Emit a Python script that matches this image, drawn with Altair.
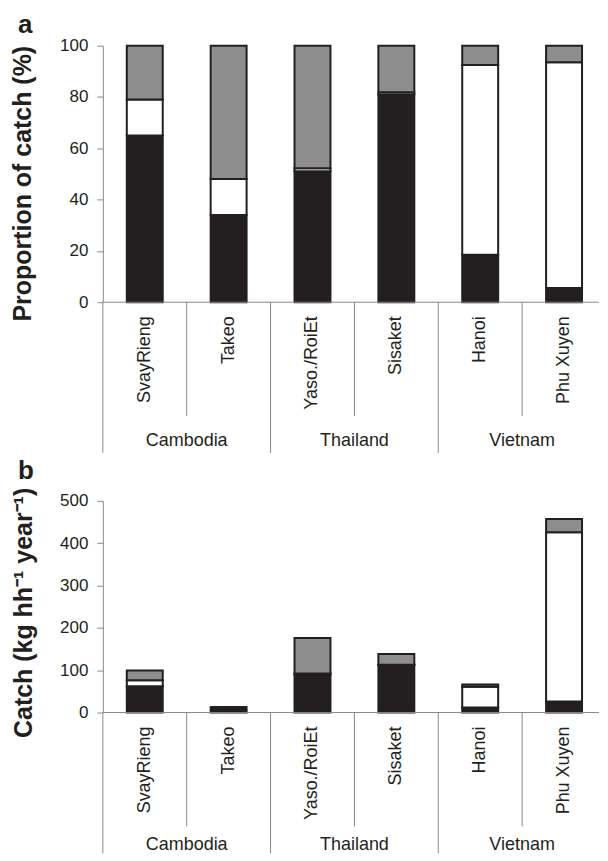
import altair as alt
import pandas as pd

# ---------------- data ----------------
regions = ["SvayRieng", "Takeo", "Yaso./RoiEt", "Sisaket", "Hanoi", "Phu Xuyen"]
countries = ["Cambodia", "Thailand", "Vietnam"]
country_anchor = ["Takeo", "Sisaket", "Phu Xuyen"]   # left edge of 2nd region = country centre
short_sep = ["Takeo", "Sisaket", "Phu Xuyen"]
long_sep = ["SvayRieng", "Yaso./RoiEt", "Hanoi"]
parts = ["Component 1", "Component 2", "Component 3"]   # black, white, hatched

# panel a: proportion of catch (%)
pct_black = [65, 34, 51, 81, 18.5, 5.5]
pct_white = [14, 14, 1.2, 0.8, 74, 88]
pct_hatched = [21, 52, 47.8, 18.2, 7.5, 6.5]

# panel b: catch (kg hh-1 year-1)
catch_black = [62, 12.5, 90, 112, 12, 26]
catch_white = [14, 0, 2, 1, 49, 400]
catch_hatched = [23, 0, 84, 25, 5, 31]

pct_ticks = [0, 20, 40, 60, 80, 100]
catch_ticks = [0, 100, 200, 300, 400, 500]

title_a = "Proportion of catch  (%)"
title_b = "Catch  (kg hh\u207b\u00b9 year\u207b\u00b9)"

F = "Liberation Sans"
DARK = "#231f20"
AX = "#8a8a8a"
part_colors = [DARK, "#ffffff", "#8e8e8e"]

PLOT_W = 497      # visible width of the baseline
BAND_RANGE = 504  # band scale extent (last band runs to the page edge)


def long_df(black, white, hatched):
    rows = []
    for i, r in enumerate(regions):
        for k, vals in enumerate([black, white, hatched]):
            rows.append({"region": r, "part": parts[k], "ord": k, "value": vals[i]})
    return pd.DataFrame(rows)


def xenc(band_pos=None):
    kw = dict(
        sort=regions,
        scale=alt.Scale(domain=regions, range=[0, BAND_RANGE], paddingInner=0, paddingOuter=0),
        axis=None,
    )
    if band_pos is not None:
        kw["bandPosition"] = band_pos
    return alt.X("region:N", **kw)


def panel(df, height, ymax, yvals, title, letter, letter_y, title_x, title_y,
          long_len, country_y):
    bars = alt.Chart(df).mark_bar(size=36, stroke=DARK, strokeWidth=2).encode(
        x=xenc(),
        y=alt.Y(
            "value:Q",
            stack="zero",
            scale=alt.Scale(domain=[0, ymax], nice=False),
            axis=alt.Axis(
                values=yvals, title=None,
                labelFont=F, labelFontSize=17, labelColor=DARK, labelPadding=9,
                tickSize=6, tickColor=AX, domainColor=AX, grid=False,
            ),
        ),
        color=alt.Color("part:N", scale=alt.Scale(domain=parts, range=part_colors), legend=None),
        order=alt.Order("ord:Q", sort="ascending"),
    )

    baseline = alt.Chart(pd.DataFrame({"k": [0]})).mark_rule(
        color=AX, strokeWidth=1
    ).encode(x=alt.value(0), x2=alt.value(PLOT_W), y=alt.value(height))

    short_rules = alt.Chart(pd.DataFrame({"region": short_sep})).mark_rule(
        color=AX, strokeWidth=1
    ).encode(x=xenc(0), y=alt.value(height), y2=alt.value(height + 114))

    long_rules = alt.Chart(pd.DataFrame({"region": long_sep})).mark_rule(
        color=AX, strokeWidth=1
    ).encode(x=xenc(0), y=alt.value(height), y2=alt.value(height + long_len))

    region_text = alt.Chart(pd.DataFrame({"region": regions})).mark_text(
        angle=270, align="right", baseline="middle", font=F, fontSize=18, color=DARK
    ).encode(x=xenc(), y=alt.value(height + 14), text="region:N")

    country_text = alt.Chart(
        pd.DataFrame({"region": country_anchor, "country": countries})
    ).mark_text(
        align="center", baseline="middle", font=F, fontSize=18, color=DARK
    ).encode(x=xenc(0), y=alt.value(height + country_y), text="country:N")

    letter_text = alt.Chart(pd.DataFrame({"t": [letter]})).mark_text(
        align="left", baseline="alphabetic", font=F, fontSize=26, fontWeight="bold", color=DARK
    ).encode(x=alt.value(-85), y=alt.value(letter_y), text="t:N")

    title_text = alt.Chart(pd.DataFrame({"t": [title]})).mark_text(
        angle=270, align="center", baseline="middle", font=F, fontSize=25,
        fontWeight="bold", color=DARK
    ).encode(x=alt.value(title_x), y=alt.value(title_y), text="t:N")

    return alt.layer(
        bars, baseline, short_rules, long_rules, region_text, country_text,
        letter_text, title_text
    ).properties(width=PLOT_W, height=height)


pa = panel(long_df(pct_black, pct_white, pct_hatched), 257, 100, pct_ticks,
           title_a, "a", -12.5, -79.5, 138.3, 151, 139)
pb = panel(long_df(catch_black, catch_white, catch_hatched), 212, 500, catch_ticks,
           title_b, "b", -22.3, -78.5, 112.2, 141, 133)

chart = alt.vconcat(pa, pb, spacing=3).properties(
    padding={"left": 3, "top": 3, "right": 0, "bottom": 0}
).configure_view(stroke=None)

chart.save("out.html", embed_options={"renderer": "svg", "actions": False})
